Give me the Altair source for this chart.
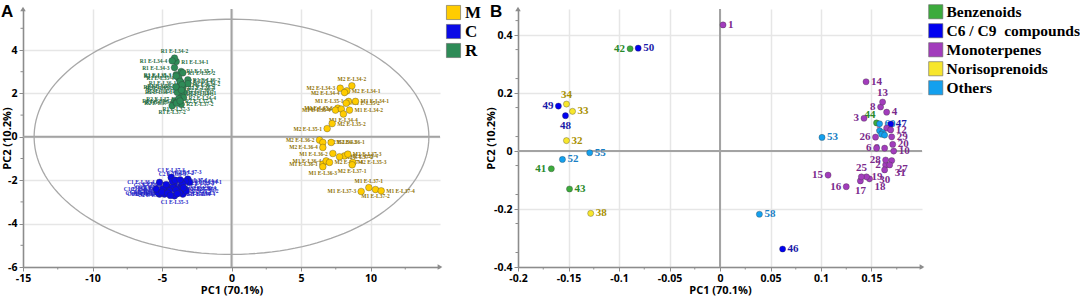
import altair as alt
import pandas as pd

# ---------------- Panel A : sample scores ----------------
A_GROUPS = ["M", "C", "R"]
A_COLORS = ["#ffcc00", "#0a0ae6", "#2e8b57"]
A_LABEL_COLORS = ["#8f7306", "#2424c8", "#1e6b40"]

m_names = ["M2 E-L34-1", "M2 E-L34-2", "M2 E-L34-3", "M2 E-L34-4",
           "M1 E-L35-1", "M1 E-L35-2", "M1 E-L35-3", "M1 E-L35-4",
           "M1 E-L34-1", "M1 E-L34-2", "M1 E-L34-3", "M1 E-L34-4",
           "M2 E-L35-1", "M2 E-L35-2", "M2 E-L35-3", "M2 E-L35-4",
           "M2 E-L36-1", "M2 E-L36-2", "M2 E-L36-3", "M2 E-L36-4",
           "M1 E-L36-1", "M1 E-L36-2", "M1 E-L36-3", "M1 E-L36-4",
           "M2 E-L37-1", "M2 E-L37-2", "M2 E-L37-3", "M2 E-L37-4",
           "M1 E-L37-1", "M1 E-L37-2", "M1 E-L37-3", "M1 E-L37-4"]
m_x = [8.30, 8.66, 7.82, 8.13, 8.42, 8.25, 7.65, 7.48,
       8.92, 8.49, 7.90, 8.05, 6.88, 7.24, 8.73, 8.13,
       7.17, 6.33, 6.57, 6.57, 6.57, 7.29, 6.57, 6.81,
       8.68, 7.77, 8.37, 7.05, 9.88, 10.36, 9.33, 10.77]
m_y = [2.12, 2.35, 2.24, 2.04, 1.63, 1.55, 1.32, 1.23,
       1.63, 1.23, 1.28, 1.05, 0.38, 0.61, -1.18, -0.88,
       -0.26, -0.15, -0.26, -0.49, -1.26, -0.77, -1.38, -1.11,
       -1.29, -0.92, -0.80, -1.18, -2.34, -2.43, -2.52, -2.49]
m_side = ["r", "a", "l", "l", "l", "r", "l", "l",
          "r", "r", "l", "b", "l", "r", "r", "r",
          "r", "l", "r", "l", "l", "l", "b", "l",
          "b", "r", "r", "r", "a", "b", "l", "r"]

c_names = ["C1 E-L37-3", "C2 E-L37-3", "C1 E-L34-1", "C1 E-L34-3",
           "C1 E-L34-4", "C1 E-L35-3", "C1 E-L36-2", "C1 E-L36-1",
           "C1 E-L36-3", "C1 E-L36-4", "C1 E-L34-2", "C1 E-L35-1",
           "C1 E-L35-2", "C1 E-L35-4", "C1 E-L37-1", "C1 E-L37-2",
           "C1 E-L37-4", "C2 E-L34-1", "C2 E-L34-2", "C2 E-L34-3",
           "C2 E-L34-4", "C2 E-L35-1", "C2 E-L35-2", "C2 E-L35-3",
           "C2 E-L35-4", "C2 E-L36-1", "C2 E-L36-2", "C2 E-L36-3",
           "C2 E-L36-4", "C2 E-L37-1", "C2 E-L37-2", "C2 E-L37-4"]
c_x = [-4.34, -3.14, -3.02, -3.38, -3.50, -4.10, -5.18, -5.30,
       -5.42, -5.18, -3.26, -4.10, -3.62, -4.58, -4.22, -4.94,
       -3.86, -3.74, -4.46, -4.82, -3.30, -3.55, -4.00, -4.70,
       -3.90, -5.00, -4.60, -4.25, -3.45, -4.05, -3.70, -4.40]
c_y = [-1.87, -1.95, -2.10, -2.41, -2.64, -2.72, -2.64, -2.57,
       -2.41, -2.10, -2.49, -2.18, -2.26, -2.30, -2.34, -2.41,
       -2.41, -2.57, -2.49, -2.64, -2.05, -2.15, -2.45, -2.20,
       -2.62, -2.55, -2.60, -2.05, -2.35, -2.00, -1.98, -2.70]
c_side = ["a", "a", "r", "r", "r", "b", "l", "l",
          "l", "l", "r", "l", "r", "l", "l", "l",
          "r", "r", "l", "l", "r", "r", "l", "l",
          "r", "l", "l", "a", "r", "r", "a", "l"]

r_names = ["R1 E-L34-1", "R1 E-L34-2", "R1 E-L34-3", "R1 E-L34-4",
           "R1 E-L35-1", "R1 E-L35-2", "R1 E-L35-3", "R1 E-L35-4",
           "R1 E-L36-1", "R1 E-L36-2", "R1 E-L36-3", "R1 E-L36-4",
           "R1 E-L37-1", "R1 E-L37-2", "R1 E-L37-3", "R1 E-L37-4",
           "R2 E-L34-1", "R2 E-L34-2", "R2 E-L34-3", "R2 E-L34-4",
           "R2 E-L35-1", "R2 E-L35-2", "R2 E-L35-3", "R2 E-L35-4",
           "R2 E-L36-1", "R2 E-L36-2", "R2 E-L36-3", "R2 E-L36-4",
           "R2 E-L37-1", "R2 E-L37-2", "R2 E-L37-3", "R2 E-L37-4"]
r_x = [-3.98, -4.10, -4.10, -4.27, -3.62, -3.50, -3.98, -3.79,
       -3.62, -3.14, -3.74, -3.50, -4.10, -4.27, -3.98, -3.86,
       -3.43, -3.14, -3.62, -3.45, -3.74, -3.86, -3.98, -3.70,
       -3.90, -3.55, -4.00, -3.60, -3.80, -3.62, -3.95, -3.70]
r_y = [3.47, 3.63, 3.19, 3.50, 3.01, 2.95, 2.86, 2.70,
       2.50, 2.63, 2.35, 2.27, 1.66, 1.43, 1.58, 1.62,
       2.04, 2.45, 1.97, 1.81, 2.12, 2.24, 2.80, 2.55,
       2.05, 2.40, 2.30, 2.15, 1.75, 1.50, 1.55, 1.65]
r_side = ["r", "a", "l", "l", "r", "r", "l", "l",
          "l", "r", "l", "r", "l", "b", "b", "l",
          "r", "r", "r", "r", "l", "l", "l", "r",
          "l", "r", "l", "r", "l", "r", "l", "r"]

# Hotelling ellipse semi-axes
ELL_A = 14.2
ELL_B = 5.42

# axis tick values
A_XTICKS = [-15, -10, -5, 0, 5, 10]
A_YTICKS = [-6, -4, -2, 0, 2, 4]
A_XMINOR = [-12.5, -7.5, -2.5, 2.5, 7.5, 12.5]
A_YMINOR = [-5, -3, -1, 1, 3, 5]

# ---------------- Panel B : loadings ----------------
B_CLASSES = ["Benzenoids", "C6 / C9\u00a0 compounds", "Monoterpenes", "Norisoprenoids", "Others"]
B_COLORS = ["#3cab3c", "#0000f0", "#a23cbc", "#f7e62c", "#14a0ee"]
B_LABEL_COLORS = ["#2a8a2a", "#1a1aa8", "#7a2a8c", "#a89000", "#1a7fc4"]

mono_ids = ["1", "2", "3", "4", "5", "6", "8", "9", "10", "12", "13", "14", "15",
            "16", "17", "18", "19", "20", "25", "26", "27", "28", "29", "30", "31"]
mono_x = [0.003, 0.164, 0.1426, 0.165, 0.165, 0.155, 0.159, 0.163, 0.172, 0.169, 0.161, 0.1446, 0.107,
          0.125, 0.139, 0.148, 0.145, 0.171, 0.140, 0.154, 0.170, 0.164, 0.170, 0.163, 0.168]
mono_y = [0.435, -0.048, 0.113, 0.134, 0.079, 0.010, 0.152, 0.010, 0.000, 0.073, 0.169, 0.239, -0.083,
          -0.123, -0.103, -0.096, -0.089, 0.023, -0.089, 0.048, -0.033, -0.031, 0.049, -0.065, -0.048]
mono_side = ["r", "l", "l", "r", "l", "l", "l", "l", "r", "r", "a", "r", "l",
             "l", "b", "rb", "r", "r", "a", "l", "rb", "l", "r", "b", "rb"]

benz_ids = ["41", "42", "43", "44"]
benz_x = [-0.167, -0.089, -0.149, 0.155]
benz_y = [-0.061, 0.353, -0.131, 0.097]
benz_side = ["l", "l", "r", "al"]

c6_ids = ["46", "47", "48", "49", "50"]
c6_x = [0.062, 0.169, -0.153, -0.160, -0.081]
c6_y = [-0.338, 0.093, 0.122, 0.155, 0.355]
c6_side = ["r", "r", "b", "l", "r"]

nor_ids = ["32", "33", "34", "38"]
nor_x = [-0.152, -0.146, -0.152, -0.128]
nor_y = [0.036, 0.137, 0.162, -0.215]
nor_side = ["r", "r", "a", "r"]

oth_ids = ["52", "53", "55", "58", "60", "54", "56", "57", "59"]
oth_x = [-0.156, 0.101, -0.129, 0.039, 0.158, 0.158, 0.161, 0.160, 0.163]
oth_y = [-0.029, 0.047, -0.006, -0.218, 0.094, 0.070, 0.064, 0.058, 0.055]
oth_side = ["r", "r", "r", "r", "r", "n", "n", "n", "n"]

B_XTICKS = [-0.2, -0.15, -0.1, -0.05, 0, 0.05, 0.1, 0.15]
B_YTICKS = [-0.4, -0.3, -0.2, -0.1, 0, 0.1, 0.2, 0.3, 0.4]
B_XMINOR = [-0.175, -0.125, -0.075, -0.025, 0.025, 0.075, 0.125, 0.175]
B_YMINOR = [-0.35, -0.25, -0.15, -0.05, 0.05, 0.15, 0.25, 0.35, 0.45]

# ---------------- tables ----------------
def table(names, xs, ys, sides, group):
    return pd.DataFrame({"name": names, "x": xs, "y": ys, "side": sides, "group": group})

df_a = pd.concat([
    table(m_names, m_x, m_y, m_side, "M"),
    table(c_names, c_x, c_y, c_side, "C"),
    table(r_names, r_x, r_y, r_side, "R"),
], ignore_index=True)

df_b = pd.concat([
    table(benz_ids, benz_x, benz_y, benz_side, B_CLASSES[0]),
    table(c6_ids, c6_x, c6_y, c6_side, B_CLASSES[1]),
    table(mono_ids, mono_x, mono_y, mono_side, B_CLASSES[2]),
    table(nor_ids, nor_x, nor_y, nor_side, B_CLASSES[3]),
    table(oth_ids, oth_x, oth_y, oth_side, B_CLASSES[4]),
], ignore_index=True)

LABEL_FONT = "Open Sans"
SERIF = "Liberation Serif"
AXIS_GREY = "#8c8c8c"
MINUS_FIX = "replace(datum.label, '\u2212', '-')"


def make_axis(values, title, **extra):
    return alt.Axis(values=values, title=title, format="~g", labelExpr=MINUS_FIX,
                    labelFont=LABEL_FONT, labelFontWeight="bold",
                    labelFontSize=10.5, labelColor="black", titleFont=LABEL_FONT,
                    titleFontWeight="bold", titleFontSize=11, titleColor="black",
                    domainColor=AXIS_GREY, domainWidth=1.5, tickColor=AXIS_GREY, tickSize=4,
                    tickWidth=1, grid=True, gridColor="#e6e6e6", gridWidth=1.5,
                    labelPadding=2, titlePadding=1, labelFlush=False, **extra)


SIDE_STYLE = {
    "r": dict(align="left", baseline="middle", dx=5, dy=0),
    "l": dict(align="right", baseline="middle", dx=-5, dy=0),
    "a": dict(align="center", baseline="bottom", dx=0, dy=-4),
    "b": dict(align="center", baseline="top", dx=0, dy=4),
    "rb": dict(align="left", baseline="top", dx=5, dy=2),
    "al": dict(align="right", baseline="bottom", dx=-1, dy=-3),
}


def panel(df, xdom, ydom, xvals, yvals, xminor, yminor, groups, colors, lcolors, lfont, psize,
          legend_font_size, legend_x, legend_y, letter, letter_x, letter_y, w, h, ytitle_x,
          ellipse=None):
    x_enc = alt.X("x:Q", scale=alt.Scale(domain=xdom, nice=False, zero=False),
                  axis=make_axis(xvals, "PC1 (70.1%)"))
    y_enc = alt.Y("y:Q", scale=alt.Scale(domain=ydom, nice=False, zero=False),
                  axis=make_axis(yvals, "PC2 (10.2%)", titleX=ytitle_x, titleBaseline="middle"))
    base = alt.Chart(df)
    layers = []
    zero = pd.DataFrame({"v": [0.0]})
    layers.append(alt.Chart(zero).mark_rule(color="#a3a3a3", strokeWidth=2).encode(x="v:Q"))
    layers.append(alt.Chart(zero).mark_rule(color="#a3a3a3", strokeWidth=2).encode(y="v:Q"))
    # minor ticks along the two axes
    layers.append(alt.Chart(pd.DataFrame({"v": xminor})).mark_rule(color=AXIS_GREY, strokeWidth=1)
                  .encode(x="v:Q", y=alt.value(h), y2=alt.value(h + 2.5)))
    layers.append(alt.Chart(pd.DataFrame({"v": yminor})).mark_rule(color=AXIS_GREY, strokeWidth=1)
                  .encode(y="v:Q", x=alt.value(0), x2=alt.value(-2.5)))
    if ellipse is not None:
        ea, eb = ellipse
        ell = (alt.Chart(alt.sequence(0, 6.35, 0.04, as_="t"))
               .transform_calculate(ex=f"{ea}*cos(datum.t)", ey=f"{eb}*sin(datum.t)")
               .mark_line(color="#a8a8a8", strokeWidth=1.3)
               .encode(x="ex:Q", y="ey:Q", order="t:Q"))
        layers.append(ell)
    for side, st in SIDE_STYLE.items():
        layers.append(
            base.transform_filter(alt.datum.side == side)
            .mark_text(font=SERIF, fontWeight="bold", fontSize=lfont, **st)
            .encode(x="x:Q", y="y:Q", text="name:N",
                    fill=alt.Fill("group:N", scale=alt.Scale(domain=groups, range=lcolors), legend=None))
        )
    pts = base.mark_circle(size=psize, opacity=1, stroke="#333333", strokeWidth=0.6,
                           strokeOpacity=0.55).encode(
        x=x_enc, y=y_enc,
        color=alt.Color("group:N", scale=alt.Scale(domain=groups, range=colors),
                        legend=alt.Legend(title=None, orient="none", legendX=legend_x,
                                          legendY=legend_y, symbolType="square",
                                          symbolSize=200, symbolStrokeColor="#666666",
                                          symbolStrokeWidth=0.6, symbolOpacity=1,
                                          labelFont=SERIF, labelFontWeight="bold",
                                          labelFontSize=legend_font_size, labelColor="black",
                                          labelOffset=3, rowPadding=1, padding=0,
                                          labelLimit=200)),
    )
    layers.append(pts)
    ends = pd.DataFrame({"x": [xdom[0]], "y": [ydom[1]]})
    ends2 = pd.DataFrame({"x": [xdom[1]], "y": [ydom[0]]})
    layers.append(alt.Chart(ends).mark_point(shape="triangle-up", filled=True, size=30,
                                             color=AXIS_GREY, opacity=1)
                  .encode(x="x:Q", y="y:Q"))
    layers.append(alt.Chart(ends2).mark_point(shape="triangle-right", filled=True, size=30,
                                              color=AXIS_GREY, opacity=1)
                  .encode(x="x:Q", y="y:Q"))
    layers.append(alt.Chart(pd.DataFrame({"t": [letter]}))
                  .mark_text(align="left", baseline="top", fontSize=17, fontWeight="bold",
                             font="Liberation Sans", color="black")
                  .encode(x=alt.value(letter_x), y=alt.value(letter_y), text="t:N"))
    return alt.layer(*layers).resolve_scale(fill="independent").properties(width=w, height=h)


chart_a = panel(df_a, [-15, 15], [-6, 5.89], A_XTICKS, A_YTICKS, A_XMINOR, A_YMINOR,
                A_GROUPS, A_COLORS, A_LABEL_COLORS, 5.5, 45, 17, 422, -5,
                "A", -22, -5, 417, 258, -16, ellipse=(ELL_A, ELL_B))
chart_b = panel(df_b, [-0.2, 0.2], [-0.4, 0.49], B_XTICKS, B_YTICKS, B_XMINOR, B_YMINOR,
                B_CLASSES, B_COLORS, B_LABEL_COLORS, 11, 38, 15.5, 410, -5,
                "B", -28, -5, 404, 258, -27)

chart = (alt.hconcat(chart_a, chart_b, spacing=78, bounds="flush")
         .resolve_scale(color="independent", fill="independent")
         .configure(padding={"left": 1, "top": 3, "right": 0, "bottom": 0})
         .configure_view(stroke=None))

chart.save("out.html", embed_options={"renderer": "svg", "actions": False})
